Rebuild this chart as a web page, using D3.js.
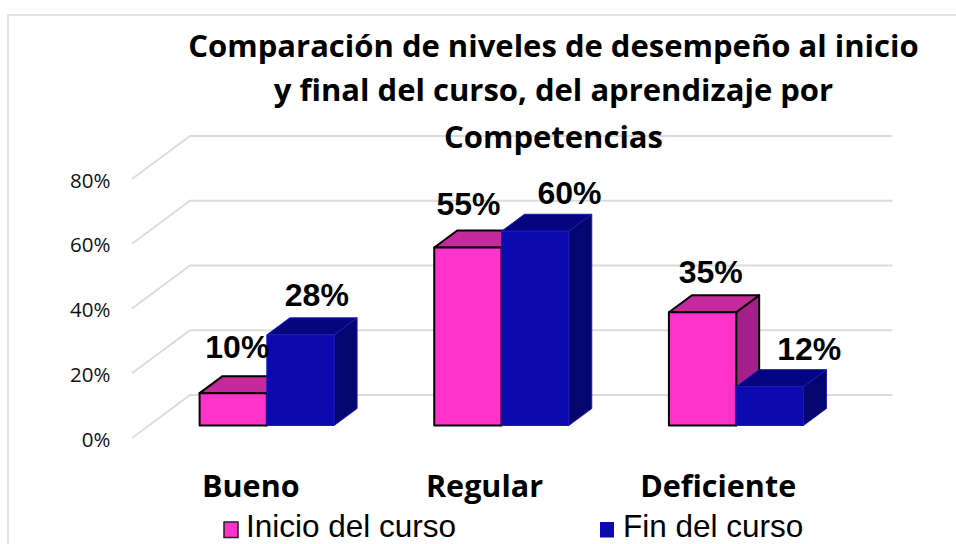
<!DOCTYPE html>
<html><head><meta charset="utf-8">
<script src="https://cdn.jsdelivr.net/npm/d3@7"></script>
<style>html,body{margin:0;padding:0;background:#fff;overflow:hidden}svg{display:block}</style>
</head><body><svg id="c" width="956" height="544"></svg>
<script>
const categories=["Bueno","Regular","Deficiente"];
const seriesNames=["Inicio del curso","Fin del curso"];
const inicio=[10,55,35];
const fin=[28,60,12];
const yTicks=[0,20,40,60,80];
const titleLines=["Comparación de niveles de desempeño al inicio","y final del curso, del aprendizaje por","Competencias"];

const svg=d3.select("#c");
svg.append("path").attr("d","M8,544V15H956").attr("fill","none").attr("stroke","#dcdcdc").attr("stroke-width",1.6);

const y=d3.scaleLinear().domain([0,80]).range([438,179]);
const x=d3.scaleBand().domain(categories).range([149.5,853.5]);
const sub=d3.scaleBand().domain(seriesNames).range([0,134.5]);
const wallDx=58,wallDy=-43,barDx=23,barDy=-17,offY=-12.5;

yTicks.forEach(t=>{
  const g=svg.append("g");
  g.append("polyline").attr("points",[[132,y(t)],[132+wallDx,y(t)+wallDy],[892.5,y(t)+wallDy]].join(" "))
    .attr("fill","none").attr("stroke","#dcdcdc").attr("stroke-width",1.8);
  g.append("text").attr("x",110.5).attr("y",y(t)+8.5).attr("text-anchor","end")
    .attr("font-family","Open Sans").attr("font-size",20.5).attr("fill","#111").text(t+"%");
});

const styles=[
 {front:"#ff33cc",top:"#c42a9c",side:"#a3208a",stroke:"#000",sw:2},
 {front:"#0a0ab0",top:"#050580",side:"#050570",stroke:"#1a1ab8",sw:1}
];
function bar(cat,si,v){
  const s=styles[si],x0=x(cat)+(x.bandwidth()-134.5)/2+sub(seriesNames[si]),w=sub.bandwidth();
  const b=y(0)+offY,t=y(v)+offY;
  const g=svg.append("g").attr("stroke",s.stroke).attr("stroke-width",s.sw).attr("stroke-linejoin","round");
  g.append("path").attr("fill",s.side).attr("d",`M${x0+w},${t}L${x0+w+barDx},${t+barDy}L${x0+w+barDx},${b+barDy}L${x0+w},${b}Z`);
  g.append("path").attr("fill",s.top).attr("d",`M${x0},${t}L${x0+barDx},${t+barDy}L${x0+w+barDx},${t+barDy}L${x0+w},${t}Z`);
  g.append("rect").attr("fill",s.front).attr("x",x0).attr("y",t).attr("width",w).attr("height",b-t);
}
categories.forEach((c,i)=>{bar(c,0,inicio[i]);bar(c,1,fin[i]);});

const labelShiftX=[[4,16.5],[0.5,34.5],[8,39.5]];
const labelShiftY=[[-35,-29],[-32,-27],[-29,-27]];
const catShift=[-16,-17,-18];
categories.forEach((c,i)=>{
  [inicio[i],fin[i]].forEach((v,si)=>{
    const cx=x(c)+x.bandwidth()/2+(si?33.5:-33.5);
    svg.append("text").attr("x",cx+labelShiftX[i][si]).attr("y",y(v)+offY+labelShiftY[i][si])
      .attr("text-anchor","middle").attr("font-family","Liberation Sans").attr("font-weight","bold")
      .attr("font-size",32).attr("fill","#000").text(v+"%");
  });
  svg.append("text").attr("x",x(c)+x.bandwidth()/2+catShift[i]).attr("y",497).attr("text-anchor","middle")
    .attr("font-family","Open Sans").attr("font-weight","bold").attr("font-size",30.5).attr("fill","#000").text(c);
});

titleLines.forEach((l,i)=>svg.append("text").attr("x",553.5).attr("y",[57,101,148][i]).attr("text-anchor","middle")
  .attr("font-family","Open Sans").attr("font-weight","bold").attr("font-size",31).attr("fill","#000").text(l));

const lx=[224,600];
seriesNames.forEach((n,i)=>{
  const s=styles[i];
  svg.append("rect").attr("x",lx[i]).attr("y",522).attr("width",14).attr("height",15.5)
    .attr("fill",s.front).attr("stroke",i?"none":"#222").attr("stroke-width",1.5);
  svg.append("text").attr("x",lx[i]+(i?23:22)).attr("y",537).attr("font-family","Liberation Sans").attr("font-size",31.5).attr("fill","#000").text(n);
});
</script></body></html>
